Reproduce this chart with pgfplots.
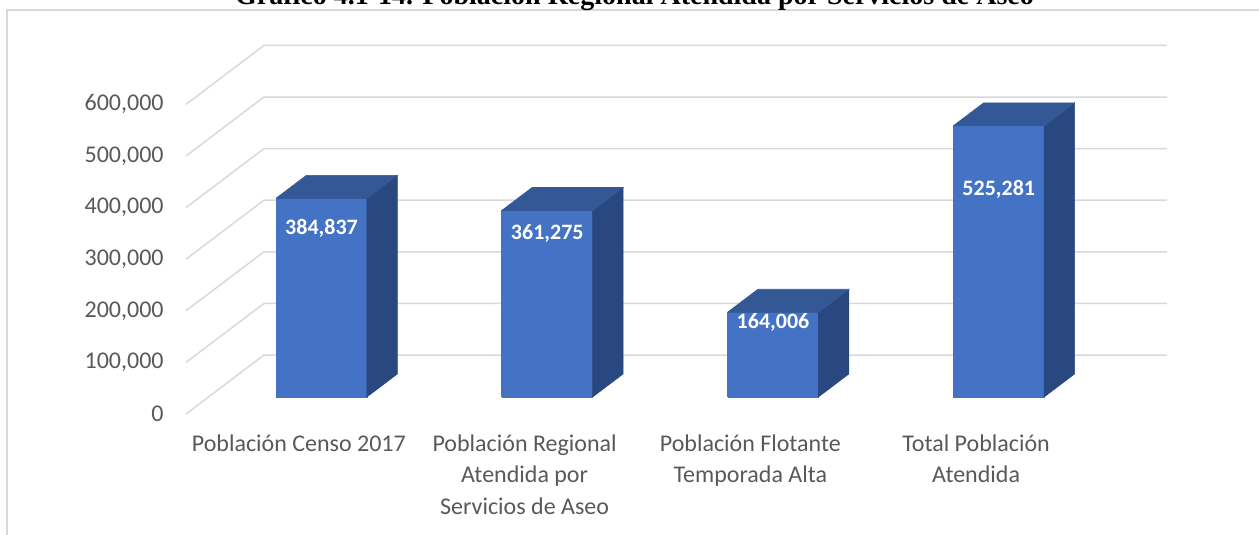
\documentclass[border=0pt]{standalone}
\usepackage{pgfplots}
\usepackage{pgfplotstable}
\pgfplotsset{compat=1.18}
\usepackage{fontspec}
\setmainfont{Carlito}
\newfontfamily\titlefont{Liberation Serif}
\definecolor{barfront}{HTML}{4472C4}
\definecolor{bartop}{HTML}{345896}
\definecolor{barside}{HTML}{2A4880}
\definecolor{gridc}{HTML}{D9D9D9}
\definecolor{txt}{HTML}{595959}

\pgfplotstableread{
s v ylab
0 384837 360000
1 361275 349800
2 164006 177300
3 525281 435000
}\bars

\pgfplotstableread{
a b
0 0
1 0
1 1
0 1
0 0
}\unitsq

\pgfplotstableread{
a b
0 0
0.3455 114300
4.3455 114300
}\gridshape

\def\DX{0.3455}\def\DY{114300}\def\DF{0.29}\def\DD{0.39}\def\HW{0.2015}

\begin{document}
\begin{tikzpicture}
\useasboundingbox (0,0) rectangle (629.5pt,267.5pt);
\clip (0,0) rectangle (629.5pt,267.5pt);
\draw[gridc, line width=0.75pt] (3.5pt,-5pt) -- (3.5pt,262.5pt) -- (640pt,262.5pt);
\node[anchor=base, inner sep=0pt] at (317.25pt,265.0pt) {\titlefont\bfseries\fontsize{14}{16}\selectfont Gráfico 4.1-14. Población Regional Atendida por Servicios de Aseo};
\begin{axis}[
  at={(93pt,60.5pt)}, anchor=south west,
  scale only axis, width=490.5pt, height=184.3pt,
  xmin=0, xmax=4.3455, ymin=0, ymax=714300,
  clip=false,
  axis line style={draw=none},
  tick style={draw=none},
  major tick length=0pt,
  scaled y ticks=false,
  ytick={0,100000,200000,300000,400000,500000,600000},
  yticklabel style={/pgf/number format/fixed, /pgf/number format/1000 sep={,}, /pgf/number format/assume math mode=true, font=\fontsize{12}{14}\selectfont, text=txt, anchor=east, inner sep=0pt, xshift=-11pt},
  xtick={0.5,1.5,2.5,3.5},
  xticklabels={Población Censo 2017, Población Regional\\Atendida por\\Servicios de Aseo, Población Flotante\\Temporada Alta, Total Población\\Atendida},
  xticklabel style={align=center, anchor=north, inner sep=0pt, yshift=-10pt, text=txt, font=\fontsize{12}{15.75}\selectfont},
]
\pgfplotsinvokeforeach{0,100000,200000,300000,400000,500000,600000}{
  \addplot[gridc, line width=0.75pt] table[x=a, y expr={#1+\thisrow{b}}] {\gridshape};
}
\pgfplotsinvokeforeach{0,1,2,3}{
  \pgfplotstablegetelem{#1}{v}\of\bars
  \let\V\pgfplotsretval
  \addplot[fill=barfront, draw=barfront, line width=0.3pt] table[x expr={#1+0.5-\HW+2*\HW*\thisrow{a}+\DX*\DF}, y expr={\V*\thisrow{b}+\DY*\DF}] {\unitsq};
  \addplot[fill=barside, draw=barside, line width=0.3pt] table[x expr={#1+0.5+\HW+\DX*(\DF+\DD*\thisrow{a})}, y expr={\V*\thisrow{b}+\DY*(\DF+\DD*\thisrow{a})}] {\unitsq};
  \addplot[fill=bartop, draw=bartop, line width=0.3pt] table[x expr={#1+0.5-\HW+2*\HW*\thisrow{a}+\DX*(\DF+\DD*\thisrow{b})}, y expr={\V+\DY*(\DF+\DD*\thisrow{b})}] {\unitsq};
}
\addplot[draw=none, mark=none, nodes near coords, point meta=explicit,
  /pgf/number format/fixed, /pgf/number format/1000 sep={,},
  every node near coord/.append style={anchor=center, text=white, font=\bfseries\fontsize{11}{13}\selectfont, /pgf/number format/assume math mode=true}]
  table[x expr={\thisrow{s}+0.5+\DX*\DF}, y=ylab, meta=v] {\bars};
\end{axis}
\end{tikzpicture}
\end{document}
